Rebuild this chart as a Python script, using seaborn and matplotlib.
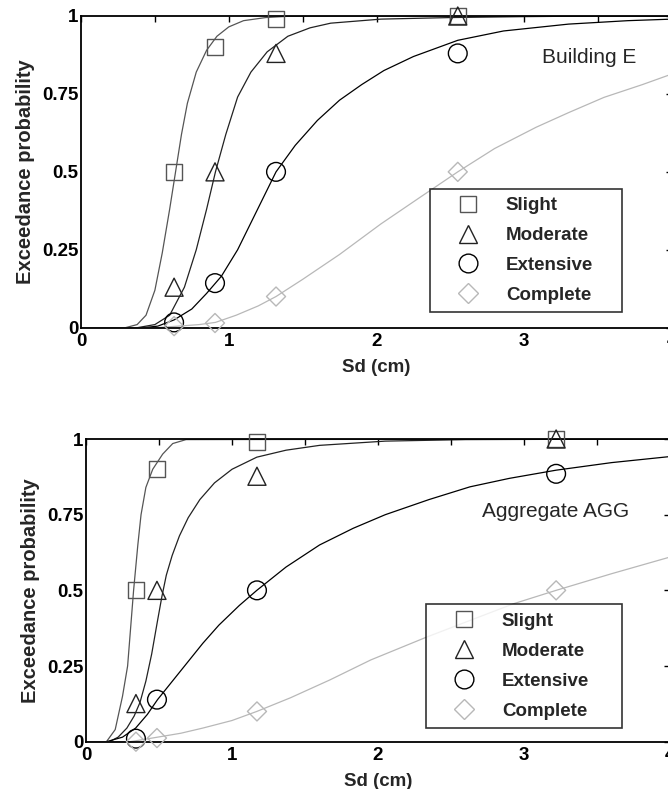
import numpy as np
import pandas as pd
import matplotlib
matplotlib.use('Agg')
import matplotlib.pyplot as plt
import seaborn as sns
from matplotlib.lines import Line2D

# ---- Building E: observed points ----
e_sd = [0.63, 0.907, 1.32, 2.55]
e_slight = [0.5, 0.9, 0.99, 1.0]
e_moderate = [0.13, 0.5, 0.88, 1.0]
e_extensive = [0.017, 0.143, 0.5, 0.88]
e_complete = [0.005, 0.015, 0.10, 0.5]

# ---- Building E: fitted curves ----
e_slight_cx = [0, 0.30, 0.38, 0.44, 0.50, 0.55, 0.60, 0.64, 0.68, 0.72, 0.78, 0.85, 0.92, 1.00, 1.10, 1.25, 1.40, 1.70, 4.0]
e_slight_cy = [0, 0, 0.01, 0.04, 0.12, 0.24, 0.38, 0.50, 0.62, 0.72, 0.82, 0.89, 0.935, 0.965, 0.985, 0.995, 0.999, 1.0, 1.0]
e_moderate_cx = [0, 0.38, 0.50, 0.60, 0.70, 0.78, 0.85, 0.91, 0.98, 1.06, 1.15, 1.26, 1.40, 1.55, 1.69, 2.03, 2.5, 3.0, 3.5, 4.0]
e_moderate_cy = [0, 0, 0.01, 0.04, 0.13, 0.25, 0.38, 0.50, 0.62, 0.74, 0.82, 0.885, 0.935, 0.962, 0.977, 0.99, 0.995, 0.998, 1.0, 1.0]
e_extensive_cx = [0, 0.42, 0.52, 0.63, 0.75, 0.85, 0.95, 1.06, 1.19, 1.32, 1.45, 1.60, 1.75, 1.90, 2.05, 2.25, 2.55, 2.86, 3.3, 3.7, 4.0]
e_extensive_cy = [0, 0, 0.005, 0.025, 0.06, 0.11, 0.165, 0.25, 0.375, 0.50, 0.585, 0.665, 0.73, 0.78, 0.825, 0.87, 0.922, 0.952, 0.974, 0.985, 0.99]
e_complete_cx = [0, 0.5, 0.63, 0.8, 0.91, 1.05, 1.2, 1.32, 1.5, 1.75, 2.03, 2.3, 2.55, 2.8, 3.08, 3.3, 3.54, 3.8, 4.0]
e_complete_cy = [0, 0, 0.004, 0.01, 0.017, 0.04, 0.07, 0.10, 0.155, 0.235, 0.333, 0.42, 0.50, 0.575, 0.643, 0.69, 0.739, 0.78, 0.814]

# ---- Aggregate AGG: observed points ----
a_sd = [0.342, 0.486, 1.171, 3.22]
a_slight = [0.5, 0.9, 0.99, 1.0]
a_moderate = [0.126, 0.5, 0.877, 1.0]
a_extensive = [0.01, 0.139, 0.5, 0.885]
a_complete = [0.0, 0.012, 0.10, 0.5]

# ---- Aggregate AGG: fitted curves ----
a_slight_cx = [0, 0.14, 0.20, 0.25, 0.285, 0.326, 0.355, 0.377, 0.41, 0.457, 0.525, 0.594, 0.685, 4.0]
a_slight_cy = [0, 0, 0.04, 0.15, 0.25, 0.50, 0.65, 0.75, 0.84, 0.90, 0.95, 0.985, 0.998, 1.0]
a_moderate_cx = [0, 0.16, 0.22, 0.28, 0.33, 0.37, 0.41, 0.45, 0.49, 0.52, 0.55, 0.59, 0.64, 0.70, 0.78, 0.88, 1.0, 1.17, 1.37, 1.6, 2.05, 2.6, 4.0]
a_moderate_cy = [0, 0, 0.015, 0.045, 0.085, 0.13, 0.20, 0.29, 0.40, 0.48, 0.55, 0.615, 0.68, 0.74, 0.80, 0.855, 0.90, 0.94, 0.963, 0.979, 0.993, 0.998, 1.0]
a_extensive_cx = [0, 0.14, 0.25, 0.34, 0.42, 0.49, 0.6, 0.7, 0.8, 0.91, 1.05, 1.17, 1.37, 1.6, 1.83, 2.05, 2.35, 2.63, 2.9, 3.22, 3.6, 4.0]
a_extensive_cy = [0, 0, 0.015, 0.045, 0.09, 0.139, 0.205, 0.265, 0.325, 0.385, 0.45, 0.50, 0.577, 0.65, 0.705, 0.75, 0.80, 0.842, 0.87, 0.897, 0.922, 0.942]
a_complete_cx = [0, 0.3, 0.34, 0.49, 0.65, 0.80, 1.0, 1.17, 1.4, 1.67, 1.95, 2.33, 2.6, 2.93, 3.22, 3.6, 4.0]
a_complete_cy = [0, 0, 0.003, 0.015, 0.028, 0.045, 0.07, 0.10, 0.145, 0.204, 0.27, 0.345, 0.395, 0.456, 0.50, 0.555, 0.61]

states = ['Slight', 'Moderate', 'Extensive', 'Complete']
markers = {'Slight': 's', 'Moderate': '^', 'Extensive': 'o', 'Complete': 'D'}
msize = {'Slight': 11.5, 'Moderate': 13, 'Extensive': 13.5, 'Complete': 9.7}
colors = {'Slight': '#555555', 'Moderate': '#222222', 'Extensive': '#000000', 'Complete': '#b8b8b8'}

sns.set_theme(style='white')
plt.rcParams['font.family'] = ['Liberation Sans', 'DejaVu Sans']
plt.rcParams['font.weight'] = 'bold'
plt.rcParams['axes.labelweight'] = 'bold'

fig = plt.figure(figsize=(6.68, 7.89), dpi=100)
ax1 = fig.add_axes([81/668, 1-327.7/789, 591/668, 311.7/789])
ax2 = fig.add_axes([86/668, 1-741.7/789, 584/668, 302.7/789])


def draw_panel(ax, sd, pts, curves, label, label_xy, leg_box):
    for st in states:
        cx, cy = curves[st]
        sns.lineplot(x=cx, y=cy, ax=ax, color=colors[st], linewidth=0.9,
                     sort=False, estimator=None, legend=False)
        sns.scatterplot(x=sd, y=pts[st], ax=ax, marker=markers[st],
                        s=msize[st]**2, facecolor='none', edgecolor=colors[st],
                        linewidth=1.0, clip_on=False, legend=False, zorder=5)
    ax.set_xlim(0, 4)
    ax.set_ylim(0, 1)
    ax.set_xticks(np.arange(0, 4.01, 0.5))
    ax.set_xticklabels(['0', '', '1', '', '2', '', '3', '', '4'])
    ax.set_yticks([0, 0.25, 0.5, 0.75, 1])
    ax.set_yticklabels(['0', '0.25', '0.5', '0.75', '1'])
    ax.tick_params(direction='in', top=True, right=True, length=4.5, width=1,
                   labelsize=13.5, colors='black')
    ax.tick_params(axis='x', pad=4)
    ax.tick_params(axis='y', pad=2)
    for sp in ax.spines.values():
        sp.set_linewidth(1.3)
        sp.set_color('black')
    ax.set_xlabel('Sd (cm)', fontsize=13.5, labelpad=6)
    ax.set_ylabel('Exceedance probability', fontsize=14.5, labelpad=5)
    ax.text(label_xy[0], label_xy[1], label, transform=ax.transAxes,
            fontsize=15, fontweight='normal', ha='center', va='center')
    handles = [Line2D([], [], linestyle='none', marker=markers[st],
                      markersize=msize[st], markerfacecolor='none',
                      markeredgecolor=colors[st], markeredgewidth=1.0)
               for st in states]
    leg = ax.legend(handles, states, loc='lower left', bbox_to_anchor=leg_box,
                    mode='expand', frameon=True, fancybox=False, fontsize=13.5,
                    handlelength=3.2, handletextpad=0.4, borderpad=0.45,
                    labelspacing=0.68, borderaxespad=0)
    leg.get_frame().set_edgecolor('black')
    leg.get_frame().set_linewidth(1.2)


draw_panel(ax1, e_sd,
           {'Slight': e_slight, 'Moderate': e_moderate, 'Extensive': e_extensive, 'Complete': e_complete},
           {'Slight': (e_slight_cx, e_slight_cy), 'Moderate': (e_moderate_cx, e_moderate_cy),
            'Extensive': (e_extensive_cx, e_extensive_cy), 'Complete': (e_complete_cx, e_complete_cy)},
           'Building E', (0.86, 0.868), (0.5905, 0.0494, 0.325, 0.39))
draw_panel(ax2, a_sd,
           {'Slight': a_slight, 'Moderate': a_moderate, 'Extensive': a_extensive, 'Complete': a_complete},
           {'Slight': (a_slight_cx, a_slight_cy), 'Moderate': (a_moderate_cx, a_moderate_cy),
            'Extensive': (a_extensive_cx, a_extensive_cy), 'Complete': (a_complete_cx, a_complete_cy)},
           'Aggregate AGG', (0.8036, 0.759), (0.582, 0.0453, 0.3356, 0.41))

fig.savefig('out.png', dpi=100)
